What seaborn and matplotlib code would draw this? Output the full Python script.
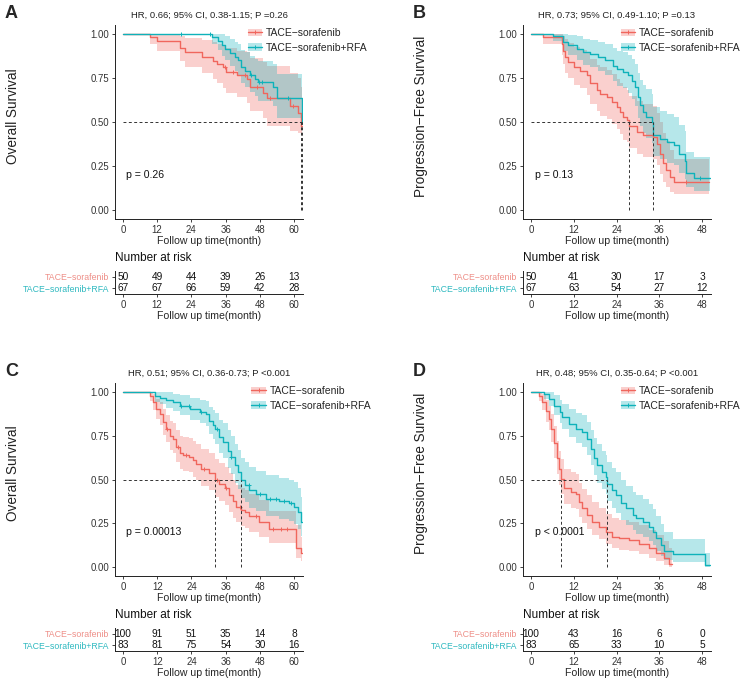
import numpy as np
import matplotlib
matplotlib.use("Agg")
import matplotlib.pyplot as plt
import seaborn as sns
from matplotlib.patches import Patch
from matplotlib.lines import Line2D

sns.set_style("ticks")
plt.rcParams["font.family"] = ["Liberation Sans", "DejaVu Sans"]

RED = "#F0665D"
TEAL = "#0EB2BA"
RED_LABEL = "#EE8F88"
TEAL_LABEL = "#2FB9C0"
GROUPS = ["TACE\u2212sorafenib", "TACE\u2212sorafenib+RFA"]

# ---- panel A: overall survival, cohort 1 ----
A_RED_T = [0, 9.5, 11.8, 20.0, 21.8, 27.8, 31.7, 33.0, 35.2, 36.3, 40.0, 43.4, 44.6, 49.3, 50.4, 58.6, 61.5, 62.4, 62.8]
A_RED_S = [1.0, 0.98, 0.96, 0.92, 0.895, 0.87, 0.845, 0.83, 0.81, 0.785, 0.765, 0.745, 0.70, 0.665, 0.635, 0.59, 0.55, 0.48, 0.48]
A_RED_LO = [1.0, 0.94, 0.905, 0.845, 0.81, 0.78, 0.745, 0.72, 0.695, 0.665, 0.64, 0.61, 0.56, 0.52, 0.48, 0.45, 0.44, 0.43, 0.43]
A_RED_HI = [1.0, 1.0, 1.0, 0.99, 0.975, 0.965, 0.955, 0.945, 0.935, 0.92, 0.905, 0.895, 0.865, 0.84, 0.815, 0.78, 0.75, 0.70, 0.70]
A_RED_CENS = [35.7, 38.5, 43.0, 47.0, 51.5, 59.8]
A_TEAL_T = [0, 31.1, 33.5, 34.7, 35.8, 37.5, 39.3, 40.5, 41.6, 42.8, 44.6, 46.2, 47.5, 52.7, 54.0, 62.7, 62.8]
A_TEAL_S = [1.0, 0.98, 0.96, 0.935, 0.915, 0.89, 0.87, 0.85, 0.81, 0.79, 0.765, 0.745, 0.725, 0.70, 0.635, 0.50, 0.50]
A_TEAL_LO = [1.0, 0.94, 0.91, 0.875, 0.85, 0.815, 0.79, 0.765, 0.72, 0.70, 0.67, 0.645, 0.62, 0.59, 0.52, 0.40, 0.40]
A_TEAL_HI = [1.0, 1.0, 1.0, 1.0, 0.985, 0.97, 0.955, 0.945, 0.91, 0.895, 0.875, 0.86, 0.845, 0.83, 0.775, 0.66, 0.66]
A_TEAL_CENS = [20.4, 30.5, 45.0, 47.8, 48.8, 58.0]
A_RED_RISK = [50, 49, 44, 39, 26, 13]
A_TEAL_RISK = [67, 67, 66, 59, 42, 28]
A_MEDIANS = [62.4, 62.7]

# ---- panel B: progression-free survival, cohort 1 ----
B_RED_T = [0, 3.5, 8.6, 9.0, 9.6, 10.5, 12.0, 13.7, 15.6, 16.5, 18.5, 19.3, 21.2, 22.6, 24.0, 25.0, 25.9, 26.8, 27.6, 29.6, 31.5, 34.3, 35.3, 36.2, 37.1, 38.0, 39.0, 40.0, 50.0]
B_RED_S = [1.0, 0.98, 0.94, 0.905, 0.87, 0.84, 0.81, 0.79, 0.765, 0.72, 0.68, 0.66, 0.64, 0.615, 0.585, 0.555, 0.53, 0.51, 0.48, 0.445, 0.425, 0.415, 0.375, 0.32, 0.265, 0.225, 0.19, 0.16, 0.16]
B_RED_LO = [1.0, 0.94, 0.88, 0.83, 0.78, 0.75, 0.71, 0.69, 0.655, 0.60, 0.56, 0.535, 0.515, 0.49, 0.46, 0.43, 0.40, 0.385, 0.355, 0.32, 0.30, 0.29, 0.255, 0.205, 0.16, 0.13, 0.105, 0.09, 0.09]
B_RED_HI = [1.0, 1.0, 1.0, 0.99, 0.97, 0.95, 0.925, 0.91, 0.89, 0.86, 0.825, 0.81, 0.795, 0.77, 0.745, 0.72, 0.70, 0.68, 0.65, 0.62, 0.60, 0.59, 0.55, 0.50, 0.44, 0.39, 0.34, 0.29, 0.29]
B_RED_CENS = [43.5]
B_TEAL_T = [0, 6.3, 9.1, 10.5, 12.8, 14.7, 16.5, 18.9, 20.8, 23.1, 24.1, 25.9, 27.3, 28.3, 29.2, 30.1, 30.6, 31.5, 32.4, 33.9, 34.3, 36.2, 38.1, 40.0, 41.5, 43.1, 43.4, 45.8, 50.3]
B_TEAL_S = [1.0, 0.985, 0.955, 0.935, 0.915, 0.895, 0.885, 0.87, 0.85, 0.82, 0.80, 0.785, 0.765, 0.735, 0.70, 0.64, 0.595, 0.555, 0.53, 0.50, 0.425, 0.405, 0.385, 0.37, 0.32, 0.28, 0.21, 0.18, 0.18]
B_TEAL_LO = [1.0, 0.96, 0.905, 0.88, 0.85, 0.825, 0.81, 0.79, 0.765, 0.73, 0.705, 0.69, 0.665, 0.63, 0.59, 0.525, 0.475, 0.435, 0.41, 0.38, 0.31, 0.29, 0.27, 0.255, 0.21, 0.175, 0.13, 0.11, 0.11]
B_TEAL_HI = [1.0, 1.0, 1.0, 0.995, 0.985, 0.97, 0.965, 0.955, 0.94, 0.92, 0.905, 0.895, 0.88, 0.855, 0.83, 0.78, 0.74, 0.71, 0.685, 0.66, 0.585, 0.565, 0.545, 0.53, 0.485, 0.45, 0.33, 0.30, 0.30]
B_TEAL_CENS = [47.5]
B_RED_RISK = [50, 41, 30, 17, 3]
B_TEAL_RISK = [67, 63, 54, 27, 12]
B_MEDIANS = [27.6, 34.2]

# ---- panel C: overall survival, cohort 2 ----
C_RED_T = [0, 9.4, 10.5, 11.7, 12.9, 14.1, 15.2, 16.4, 17.6, 18.7, 19.9, 21.0, 23.3, 24.5, 25.7, 27.4, 30.3, 32.1, 33.8, 35.6, 37.3, 38.5, 39.7, 41.4, 42.6, 44.0, 47.8, 51.3, 60.6, 62.3, 62.8]
C_RED_S = [1.0, 0.975, 0.94, 0.90, 0.875, 0.825, 0.79, 0.75, 0.73, 0.685, 0.65, 0.64, 0.63, 0.61, 0.59, 0.56, 0.535, 0.495, 0.475, 0.45, 0.41, 0.375, 0.345, 0.325, 0.315, 0.29, 0.26, 0.22, 0.11, 0.08, 0.08]
C_RED_LO = [1.0, 0.945, 0.895, 0.845, 0.81, 0.755, 0.715, 0.67, 0.65, 0.60, 0.56, 0.55, 0.54, 0.515, 0.495, 0.465, 0.44, 0.40, 0.38, 0.355, 0.315, 0.28, 0.255, 0.235, 0.225, 0.20, 0.175, 0.14, 0.05, 0.035, 0.035]
C_RED_HI = [1.0, 1.0, 0.99, 0.96, 0.94, 0.90, 0.87, 0.835, 0.82, 0.78, 0.75, 0.745, 0.735, 0.72, 0.70, 0.675, 0.65, 0.615, 0.595, 0.57, 0.535, 0.50, 0.47, 0.45, 0.44, 0.415, 0.385, 0.32, 0.24, 0.17, 0.17]
C_RED_CENS = [15.5, 19.3, 22.0, 28.5, 33.0, 36.2, 41.0, 46.5, 52.5, 55.5, 57.5]
C_TEAL_T = [0, 11.2, 13.0, 15.2, 17.4, 19.9, 23.4, 26.9, 29.2, 30.3, 31.4, 32.1, 33.8, 35.0, 36.7, 37.8, 39.1, 40.3, 41.4, 42.6, 44.3, 46.6, 50.1, 54.8, 58.3, 60.0, 61.2, 62.3, 62.8]
C_TEAL_S = [1.0, 0.975, 0.965, 0.955, 0.94, 0.92, 0.90, 0.885, 0.875, 0.835, 0.81, 0.79, 0.74, 0.715, 0.665, 0.63, 0.58, 0.545, 0.495, 0.47, 0.44, 0.42, 0.39, 0.375, 0.365, 0.345, 0.315, 0.26, 0.26]
C_TEAL_LO = [1.0, 0.94, 0.93, 0.91, 0.89, 0.865, 0.84, 0.82, 0.805, 0.76, 0.73, 0.705, 0.65, 0.62, 0.565, 0.53, 0.48, 0.445, 0.395, 0.37, 0.34, 0.32, 0.29, 0.275, 0.265, 0.245, 0.22, 0.18, 0.18]
C_TEAL_HI = [1.0, 1.0, 1.0, 1.0, 0.99, 0.98, 0.965, 0.955, 0.945, 0.915, 0.895, 0.88, 0.84, 0.82, 0.78, 0.75, 0.705, 0.67, 0.625, 0.60, 0.57, 0.55, 0.525, 0.51, 0.50, 0.485, 0.45, 0.40, 0.40]
C_TEAL_CENS = [20.5, 23.0, 27.5, 33.0, 38.0, 44.0, 48.0, 51.5, 53.5, 56.5, 59.0]
C_RED_RISK = [100, 91, 51, 35, 14, 8]
C_TEAL_RISK = [83, 81, 75, 54, 30, 16]
C_MEDIANS = [32.1, 41.4]

# ---- panel D: progression-free survival, cohort 2 ----
D_RED_T = [0, 2.2, 3.2, 4.1, 5.0, 5.5, 6.5, 7.4, 7.9, 8.3, 9.3, 11.1, 12.5, 13.5, 14.4, 15.8, 17.2, 19.1, 20.9, 22.8, 24.7, 27.5, 30.3, 33.1, 35.0, 37.3, 38.7, 39.5]
D_RED_S = [1.0, 0.975, 0.94, 0.89, 0.845, 0.79, 0.71, 0.62, 0.56, 0.505, 0.45, 0.43, 0.42, 0.37, 0.335, 0.30, 0.26, 0.23, 0.20, 0.175, 0.165, 0.155, 0.135, 0.11, 0.08, 0.05, 0.02, 0.02]
D_RED_LO = [1.0, 0.945, 0.895, 0.83, 0.78, 0.715, 0.625, 0.53, 0.47, 0.415, 0.36, 0.34, 0.33, 0.285, 0.25, 0.22, 0.185, 0.16, 0.135, 0.11, 0.10, 0.09, 0.075, 0.055, 0.035, 0.015, 0.004, 0.004]
D_RED_HI = [1.0, 1.0, 0.99, 0.955, 0.92, 0.875, 0.805, 0.72, 0.665, 0.615, 0.56, 0.54, 0.53, 0.48, 0.445, 0.41, 0.37, 0.34, 0.305, 0.28, 0.27, 0.26, 0.24, 0.215, 0.185, 0.15, 0.11, 0.11]
D_RED_CENS = []
D_TEAL_T = [0, 3.6, 5.0, 6.5, 8.0, 8.8, 10.6, 12.5, 14.4, 15.8, 16.7, 17.7, 18.6, 20.0, 20.9, 21.4, 22.8, 23.8, 25.2, 26.6, 28.5, 29.4, 31.3, 33.1, 34.1, 35.0, 36.4, 37.3, 39.7, 48.8, 50.2]
D_TEAL_S = [1.0, 0.985, 0.96, 0.92, 0.885, 0.855, 0.815, 0.79, 0.77, 0.73, 0.675, 0.62, 0.58, 0.545, 0.515, 0.475, 0.44, 0.41, 0.365, 0.335, 0.30, 0.28, 0.26, 0.23, 0.20, 0.165, 0.125, 0.09, 0.075, 0.012, 0.012]
D_TEAL_LO = [1.0, 0.96, 0.92, 0.865, 0.82, 0.785, 0.74, 0.71, 0.685, 0.64, 0.58, 0.525, 0.48, 0.445, 0.415, 0.375, 0.34, 0.31, 0.27, 0.24, 0.21, 0.19, 0.175, 0.15, 0.125, 0.095, 0.065, 0.04, 0.03, 0.002, 0.002]
D_TEAL_HI = [1.0, 1.0, 1.0, 0.98, 0.955, 0.93, 0.90, 0.88, 0.865, 0.83, 0.78, 0.735, 0.70, 0.665, 0.64, 0.60, 0.565, 0.54, 0.495, 0.465, 0.43, 0.41, 0.39, 0.36, 0.33, 0.29, 0.245, 0.20, 0.16, 0.08, 0.08]
D_TEAL_CENS = []
D_RED_RISK = [100, 43, 16, 6, 0]
D_TEAL_RISK = [83, 65, 33, 10, 5]
D_MEDIANS = [8.3, 21.2]

W, H = 747, 682
fig = plt.figure(figsize=(W / 100, H / 100), dpi=100)


def px_axes(l, t, r, b):
    return fig.add_axes([l / W, 1 - b / H, (r - l) / W, (b - t) / H])


def style_axis(ax, xticks, xlim):
    sns.despine(ax=ax)
    for s in ("left", "bottom"):
        ax.spines[s].set_linewidth(0.7)
        ax.spines[s].set_color("#222222")
    ax.set_xlim(*xlim)
    ax.set_xticks(xticks)
    ax.tick_params(axis="both", length=2.5, width=0.6, pad=1.5, labelsize=6.9,
                   colors="#222222", labelcolor="#333333")


def draw_curve(ax, t, s, lo, hi, cens, color):
    ax.fill_between(t, lo, hi, step="post", color=color, alpha=0.3, lw=0)
    ax.step(t, s, where="post", color=color, lw=1.0)
    if cens:
        idx = np.searchsorted(t, cens, side="right") - 1
        ax.plot(cens, np.asarray(s)[idx], ls="none", marker="+", ms=3.5, mew=0.7, color=color)


def panel(letter, box, risk_box, xlim, xticks, ylabel, title, ptext, legend_x, red, teal,
          red_risk, teal_risk, medians):
    l, t, r, b = box
    ax = px_axes(*box)
    draw_curve(ax, *red, RED)
    draw_curve(ax, *teal, TEAL)
    ax.plot([0, max(medians)], [0.5, 0.5], ls=(0, (3, 2.5)), color="#333333", lw=0.7)
    for m in medians:
        ax.plot([m, m], [0, 0.5], ls=(0, (3, 2.5)), color="#333333", lw=0.7)
    style_axis(ax, xticks, xlim)
    ax.set_ylim(-0.05, 1.05)
    ax.set_yticks([0, 0.25, 0.5, 0.75, 1.0])
    ax.set_yticklabels(["0.00", "0.25", "0.50", "0.75", "1.00"])
    ax.set_xlabel("Follow up time(month)", fontsize=7.6, labelpad=1)
    ax.text(1.2, 0.2, ptext, fontsize=7.6, va="center", ha="left", color="#111111")
    handles = [(Patch(facecolor=c, alpha=0.3, lw=0),
                Line2D([], [], color=c, lw=1.0, marker="+", ms=3.5, mew=0.7)) for c in (RED, TEAL)]
    ax.legend(handles, GROUPS, loc="upper left", bbox_to_anchor=(legend_x, 0.985), frameon=False,
              fontsize=7.5, borderpad=0, borderaxespad=0, handlelength=1.4, handletextpad=0.35,
              labelspacing=0.45)
    fig.text((l + r) / 2 / W, 1 - (t - 10) / H, title, fontsize=6.8, ha="center", va="center",
             color="#222222")
    fig.text((l - 110) / W, 1 - (t - 11) / H, letter, fontsize=13, fontweight="bold",
             ha="left", va="center")
    fig.text((l - 102) / W, 1 - ((t + b) / 2 - 6) / H, ylabel, fontsize=9.8, rotation=90,
             ha="center", va="center", color="#222222")

    rax = px_axes(*risk_box)
    for yy, nums in ((2, red_risk), (1, teal_risk)):
        for x, n in zip(xticks, nums):
            rax.text(x, yy, str(n), fontsize=7.3, ha="center", va="center", color="#111111")
    style_axis(rax, xticks, xlim)
    rax.set_ylim(0.5, 2.5)
    rax.set_yticks([2, 1])
    rax.set_yticklabels(GROUPS, fontsize=6.3)
    for lab, c in zip(rax.get_yticklabels(), (RED_LABEL, TEAL_LABEL)):
        lab.set_color(c)
    rax.set_xlabel("Follow up time(month)", fontsize=7.6, labelpad=1)
    rax.text(0, 1.3, "Number at risk", transform=rax.transAxes, fontsize=8.5,
             ha="left", va="bottom", color="#111111")


panel("A", (115, 25, 303, 219), (115, 271, 303, 294), (-2.8, 63.2), [0, 12, 24, 36, 48, 60],
      "Overall Survival", "HR, 0.66; 95% CI, 0.38-1.15; P =0.26", "p = 0.26", 0.705,
      (A_RED_T, A_RED_S, A_RED_LO, A_RED_HI, A_RED_CENS),
      (A_TEAL_T, A_TEAL_S, A_TEAL_LO, A_TEAL_HI, A_TEAL_CENS),
      A_RED_RISK, A_TEAL_RISK, A_MEDIANS)
panel("B", (523, 25, 711, 219), (523, 271, 711, 294), (-2.25, 50.5), [0, 12, 24, 36, 48],
      "Progression\u2212Free Survival", "HR, 0.73; 95% CI, 0.49-1.10; P =0.13", "p = 0.13", 0.52,
      (B_RED_T, B_RED_S, B_RED_LO, B_RED_HI, B_RED_CENS),
      (B_TEAL_T, B_TEAL_S, B_TEAL_LO, B_TEAL_HI, B_TEAL_CENS),
      B_RED_RISK, B_TEAL_RISK, B_MEDIANS)
panel("C", (115, 383, 303, 576), (115, 628, 303, 651), (-2.8, 63.1), [0, 12, 24, 36, 48, 60],
      "Overall Survival", "HR, 0.51; 95% CI, 0.36-0.73; P <0.001", "p = 0.00013", 0.725,
      (C_RED_T, C_RED_S, C_RED_LO, C_RED_HI, C_RED_CENS),
      (C_TEAL_T, C_TEAL_S, C_TEAL_LO, C_TEAL_HI, C_TEAL_CENS),
      C_RED_RISK, C_TEAL_RISK, C_MEDIANS)
panel("D", (523, 383, 711, 576), (523, 628, 711, 651), (-2.25, 50.5), [0, 12, 24, 36, 48],
      "Progression\u2212Free Survival", "HR, 0.48; 95% CI, 0.35-0.64; P <0.001", "p < 0.0001", 0.52,
      (D_RED_T, D_RED_S, D_RED_LO, D_RED_HI, D_RED_CENS),
      (D_TEAL_T, D_TEAL_S, D_TEAL_LO, D_TEAL_HI, D_TEAL_CENS),
      D_RED_RISK, D_TEAL_RISK, D_MEDIANS)

fig.savefig("out.png", dpi=100)
